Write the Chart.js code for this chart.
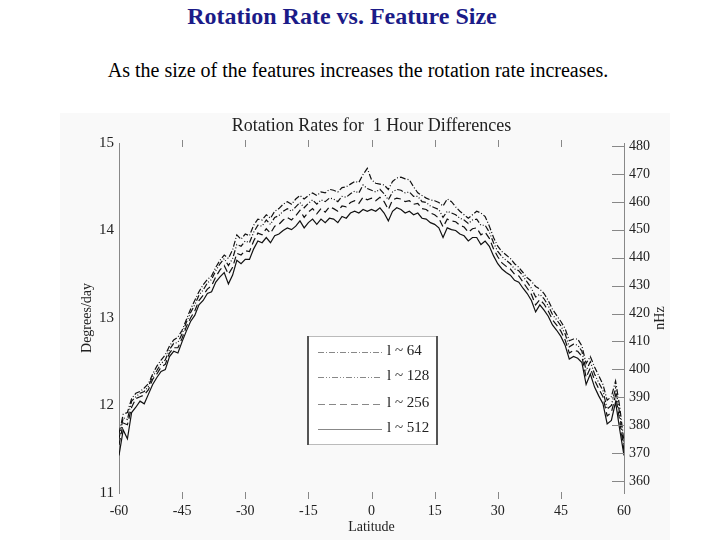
<!DOCTYPE html>
<html>
<head>
<meta charset="utf-8">
<script src="https://cdn.jsdelivr.net/npm/chart.js@4"></script>
<style>
  body { margin: 0; background: #fff; width: 720px; height: 540px; position: relative; overflow: hidden; font-family: "Liberation Serif", "Times New Roman", serif; }
  #title { position: absolute; top: 3px; left: 0; width: 684px; text-align: center; color: #1b1b88; font-size: 24px; font-weight: bold; }
  #sub { position: absolute; top: 59px; left: 0; width: 716px; text-align: center; color: #000; font-size: 20px; }
  #wrap { position: absolute; left: 60px; top: 113px; width: 610px; height: 427px; background: #f9f9f9; }
</style>
</head>
<body>
<div id="title">Rotation Rate vs. Feature Size</div>
<div id="sub">As the size of the features increases the rotation rate increases.</div>
<div id="wrap"><canvas id="chart" width="610" height="427"></canvas></div>
<script>
// latitude (degrees)
const latitude = [
  -60, -59, -58, -57, -56, -55, -54, -53, -52, -51,
  -50, -49, -48, -47, -46, -45, -44, -43, -42, -41,
  -40, -39, -38, -37, -36, -35, -34, -33, -32, -31,
  -30, -29, -28, -27, -26, -25, -24, -23, -22, -21,
  -20, -19, -18, -17, -16, -15, -14, -13, -12, -11,
  -10, -9, -8, -7, -6, -5, -4, -3, -2, -1,
  0, 1, 2, 3, 4, 5, 6, 7, 8, 9,
  10, 11, 12, 13, 14, 15, 16, 17, 18, 19,
  20, 21, 22, 23, 24, 25, 26, 27, 28, 29,
  30, 31, 32, 33, 34, 35, 36, 37, 38, 39,
  40, 41, 42, 43, 44, 45, 46, 47, 48, 49,
  50, 51, 52, 53, 54, 55, 56, 57, 58, 59,
  60
];

// rotation rates in degrees/day
const rateL64 = [
  11.68, 11.90, 11.92, 12.08, 12.14, 12.16, 12.20, 12.25, 12.36, 12.45,
  12.52, 12.58, 12.68, 12.75, 12.78, 12.86, 12.98, 13.10, 13.20, 13.30,
  13.38, 13.44, 13.48, 13.58, 13.66, 13.72, 13.68, 13.78, 13.95, 13.90,
  13.96, 13.94, 14.06, 14.13, 14.12, 14.18, 14.14, 14.22, 14.25, 14.30,
  14.33, 14.30, 14.36, 14.40, 14.36, 14.40, 14.43, 14.40, 14.44, 14.43,
  14.47, 14.46, 14.44, 14.49, 14.50, 14.53, 14.56, 14.55, 14.64, 14.71,
  14.58, 14.54, 14.53, 14.52, 14.47, 14.56, 14.60, 14.61, 14.59, 14.58,
  14.50, 14.43, 14.40, 14.37, 14.35, 14.34, 14.32, 14.28, 14.36, 14.33,
  14.27, 14.22, 14.18, 14.14, 14.18, 14.22, 14.20, 14.16, 14.05, 13.92,
  13.82, 13.76, 13.72, 13.68, 13.62, 13.58, 13.52, 13.46, 13.42, 13.36,
  13.33, 13.28, 13.20, 13.10, 13.03, 12.96, 12.88, 12.74, 12.76, 12.76,
  12.68, 12.48, 12.56, 12.44, 12.34, 12.24, 12.06, 12.10, 12.28, 11.98,
  11.58
];
const rateL128 = [
  11.62, 11.86, 11.84, 12.05, 12.10, 12.14, 12.16, 12.22, 12.33, 12.40,
  12.48, 12.52, 12.64, 12.71, 12.72, 12.82, 12.95, 13.06, 13.15, 13.26,
  13.32, 13.40, 13.44, 13.54, 13.62, 13.68, 13.60, 13.68, 13.84, 13.82,
  13.88, 13.86, 13.98, 14.06, 14.05, 14.12, 14.07, 14.15, 14.17, 14.22,
  14.25, 14.22, 14.27, 14.32, 14.26, 14.31, 14.35, 14.30, 14.35, 14.33,
  14.37, 14.36, 14.33, 14.39, 14.38, 14.42, 14.45, 14.43, 14.52, 14.48,
  14.46, 14.44, 14.47, 14.42, 14.35, 14.44, 14.47, 14.46, 14.43, 14.44,
  14.39, 14.39, 14.33, 14.32, 14.28, 14.26, 14.24, 14.15, 14.22, 14.20,
  14.18, 14.14, 14.12, 14.08, 14.12, 14.13, 14.06, 14.06, 13.98, 13.86,
  13.76, 13.70, 13.66, 13.62, 13.56, 13.54, 13.48, 13.41, 13.34, 13.24,
  13.27, 13.22, 13.14, 13.04, 12.98, 12.91, 12.82, 12.67, 12.70, 12.69,
  12.62, 12.40, 12.50, 12.36, 12.26, 12.17, 11.96, 12.00, 12.20, 11.90,
  11.52
];
const rateL256 = [
  11.55, 11.80, 11.78, 11.98, 12.08, 12.10, 12.12, 12.18, 12.30, 12.36,
  12.44, 12.47, 12.60, 12.66, 12.66, 12.77, 12.90, 13.00, 13.08, 13.20,
  13.26, 13.33, 13.37, 13.47, 13.55, 13.60, 13.50, 13.58, 13.74, 13.72,
  13.77, 13.76, 13.88, 13.97, 13.95, 14.02, 13.97, 14.05, 14.07, 14.12,
  14.15, 14.12, 14.17, 14.23, 14.15, 14.21, 14.25, 14.19, 14.25, 14.21,
  14.27, 14.25, 14.22, 14.28, 14.27, 14.32, 14.34, 14.31, 14.38, 14.35,
  14.37, 14.34, 14.38, 14.33, 14.24, 14.35, 14.37, 14.36, 14.33, 14.34,
  14.30, 14.31, 14.25, 14.24, 14.20, 14.18, 14.14, 14.04, 14.13, 14.11,
  14.10, 14.06, 14.04, 13.98, 14.02, 14.03, 13.95, 13.98, 13.91, 13.79,
  13.70, 13.63, 13.59, 13.56, 13.50, 13.48, 13.41, 13.34, 13.27, 13.15,
  13.21, 13.16, 13.08, 12.98, 12.92, 12.85, 12.75, 12.60, 12.63, 12.62,
  12.56, 12.32, 12.43, 12.29, 12.19, 12.10, 11.88, 11.92, 12.12, 11.82,
  11.48
];
const rateL512 = [
  11.43, 11.72, 11.62, 11.92, 11.98, 12.05, 12.02, 12.13, 12.24, 12.32,
  12.39, 12.41, 12.56, 12.62, 12.60, 12.73, 12.85, 12.96, 13.03, 13.15,
  13.20, 13.28, 13.30, 13.41, 13.47, 13.52, 13.39, 13.49, 13.66, 13.62,
  13.67, 13.67, 13.79, 13.88, 13.86, 13.92, 13.86, 13.94, 13.96, 14.00,
  14.03, 14.01, 14.05, 14.11, 14.03, 14.09, 14.13, 14.07, 14.13, 14.09,
  14.14, 14.13, 14.09, 14.16, 14.14, 14.20, 14.22, 14.20, 14.24, 14.22,
  14.24, 14.22, 14.26, 14.20, 14.11, 14.22, 14.26, 14.24, 14.20, 14.22,
  14.18, 14.20, 14.14, 14.13, 14.09, 14.07, 14.03, 13.92, 14.03, 14.01,
  14.00, 13.96, 13.94, 13.88, 13.92, 13.92, 13.84, 13.88, 13.82, 13.71,
  13.62, 13.56, 13.52, 13.49, 13.43, 13.41, 13.34, 13.28, 13.20, 13.07,
  13.15, 13.09, 13.02, 12.92, 12.86, 12.79, 12.69, 12.53, 12.56, 12.54,
  12.49, 12.24, 12.36, 12.21, 12.11, 12.02, 11.79, 11.83, 12.04, 11.72,
  11.43
];

const seriesNames = ['l ~ 64', 'l ~ 128', 'l ~ 256', 'l ~ 512'];
const xTicks = [-60, -45, -30, -15, 0, 15, 30, 45, 60];
const degTicks = [11, 12, 13, 14, 15];
const nhzTicks = [360, 370, 380, 390, 400, 410, 420, 430, 440, 450, 460, 470, 480];
// nHz range that lines up with 11..15 deg/day on the original figure
const nhzMin = 355.7;
const nhzMax = 481.1;

const SERIF = '"Liberation Serif", "Times New Roman", serif';
const dashes = [[6, 2, 1, 2], [6, 2, 1, 2, 1, 2], [7, 4], []];

function toPoints(values) {
  return values.map((v, i) => ({ x: latitude[i], y: v }));
}

const datasets = [rateL64, rateL128, rateL256, rateL512].map((vals, i) => ({
  label: seriesNames[i],
  data: toPoints(vals),
  borderColor: '#111',
  borderWidth: 1.2,
  borderDash: dashes[i],
  pointRadius: 0,
  tension: 0,
  fill: false
}));

// extra drawing: tick marks, titles and the boxed legend
const decor = {
  id: 'decor',
  afterDraw(chart) {
    const { ctx, chartArea: a, scales } = chart;
    ctx.save();

    // tick marks on top and bottom edges
    ctx.strokeStyle = '#888';
    ctx.lineWidth = 1;
    xTicks.forEach(v => {
      if (v === -60 || v === 60) return;
      const px = Math.round(scales.x.getPixelForValue(v)) + 0.5;
      ctx.beginPath();
      ctx.moveTo(px, a.top - 3); ctx.lineTo(px, a.top + 4);
      ctx.moveTo(px, a.bottom - 1); ctx.lineTo(px, a.bottom + 6);
      ctx.stroke();
    });
    // inward tick marks on the nHz axis
    nhzTicks.forEach(v => {
      const py = Math.round(scales.y2.getPixelForValue(v)) + 0.5;
      ctx.beginPath();
      ctx.moveTo(a.right - 12, py); ctx.lineTo(a.right, py);
      ctx.stroke();
    });

    // titles
    ctx.fillStyle = '#222';
    ctx.textAlign = 'center';
    ctx.textBaseline = 'middle';
    ctx.font = '18px ' + SERIF;
    ctx.fillText('Rotation Rates for  1 Hour Differences', (a.left + a.right) / 2, 13);
    ctx.font = '14px ' + SERIF;
    ctx.fillText('Latitude', (a.left + a.right) / 2, a.bottom + 34);
    ctx.save();
    ctx.translate(27, (a.top + a.bottom) / 2);
    ctx.rotate(-Math.PI / 2);
    ctx.fillText('Degrees/day', 0, 0);
    ctx.restore();
    ctx.save();
    ctx.translate(a.right + 36, (a.top + a.bottom) / 2);
    ctx.rotate(-Math.PI / 2);
    ctx.fillText('nHz', 0, 0);
    ctx.restore();

    // legend box
    const bx = 247, by = 223, bw = 131, bh = 109;
    ctx.fillStyle = '#fff';
    ctx.fillRect(bx, by, bw, bh);
    ctx.strokeStyle = '#bbb';
    ctx.lineWidth = 1;
    ctx.beginPath();
    ctx.moveTo(bx, by + 0.5); ctx.lineTo(bx + bw, by + 0.5);
    ctx.moveTo(bx, by + bh - 0.5); ctx.lineTo(bx + bw, by + bh - 0.5);
    ctx.stroke();
    ctx.strokeStyle = '#555';
    ctx.lineWidth = 2;
    ctx.beginPath();
    ctx.moveTo(bx + 1, by); ctx.lineTo(bx + 1, by + bh);
    ctx.moveTo(bx + bw - 1, by); ctx.lineTo(bx + bw - 1, by + bh);
    ctx.stroke();

    const rowY = [239, 264, 291, 316];
    chart.data.datasets.forEach((ds, i) => {
      ctx.strokeStyle = '#888';
      ctx.lineWidth = 1;
      ctx.setLineDash(ds.borderDash);
      ctx.beginPath();
      ctx.moveTo(bx + 11, rowY[i] + 0.5);
      ctx.lineTo(bx + 75, rowY[i] + 0.5);
      ctx.stroke();
      ctx.setLineDash([]);
      ctx.fillStyle = '#222';
      ctx.textAlign = 'left';
      ctx.font = '15px ' + SERIF;
      ctx.fillText(ds.label, bx + 80, rowY[i] - 1);
    });

    ctx.restore();
  }
};

new Chart(document.getElementById('chart'), {
  type: 'line',
  data: { datasets: datasets },
  options: {
    responsive: false,
    animation: false,
    layout: { padding: { top: 30, left: 0, right: 0, bottom: 0 } },
    plugins: { legend: { display: false }, title: { display: false }, tooltip: { enabled: false } },
    scales: {
      x: {
        type: 'linear',
        min: -60,
        max: 60,
        afterFit: s => { s.height = 47; },
        afterBuildTicks: s => { s.ticks = xTicks.map(v => ({ value: v })); },
        grid: { display: false, drawTicks: false },
        border: { display: false },
        ticks: { padding: 10, maxRotation: 0, autoSkip: false, color: '#222', font: { family: SERIF, size: 14 } }
      },
      y: {
        position: 'left',
        min: 11,
        max: 15,
        afterFit: s => { s.width = 59; },
        afterBuildTicks: s => { s.ticks = degTicks.map(v => ({ value: v })); },
        grid: { display: false, drawTicks: false },
        border: { display: true, color: '#888', width: 1 },
        ticks: { padding: 5, color: '#222', font: { family: SERIF, size: 15 } }
      },
      y2: {
        position: 'right',
        min: nhzMin,
        max: nhzMax,
        afterFit: s => { s.width = 46; },
        afterBuildTicks: s => { s.ticks = nhzTicks.map(v => ({ value: v })); },
        grid: { display: false, drawTicks: false },
        border: { display: true, color: '#888', width: 1 },
        ticks: { padding: 5, color: '#222', font: { family: SERIF, size: 14 } }
      }
    }
  },
  plugins: [decor]
});
</script>
</body>
</html>
